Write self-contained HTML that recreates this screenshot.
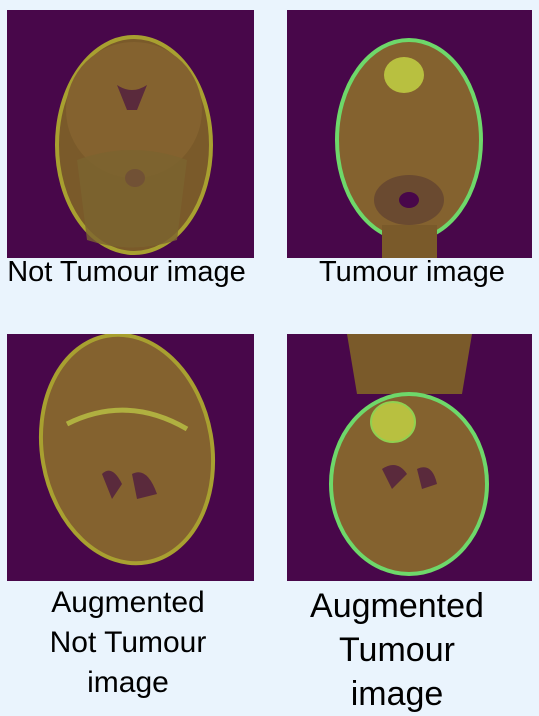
<!DOCTYPE html>
<html><head><meta charset="utf-8"><style>
body{margin:0;width:539px;height:713px;background:#eaf4fd;position:relative;overflow:hidden;font-family:"Liberation Sans",sans-serif;}
.img{position:absolute;}
.lbl{position:absolute;color:#000;text-align:center;white-space:nowrap;}
</style></head><body>
<svg class="img" style="left:7px;top:10px" width="247" height="248" viewBox="0 0 247 248">
<rect width="247" height="248" fill="#48074a"/>
<ellipse cx="127" cy="135" rx="77" ry="108" fill="#7a5a2a" stroke="#a8a030" stroke-width="4"/>
<ellipse cx="127" cy="100" rx="68" ry="68" fill="#84622f"/>
<path d="M110 75 Q125 85 140 75 L130 100 L120 100 Z" fill="#5a2a3c"/>
<ellipse cx="128" cy="168" rx="10" ry="9" fill="#48074a"/>
<path d="M70 150 Q125 130 180 150 L170 230 Q125 245 80 230 Z" fill="#7c6430" opacity="0.8"/>
</svg>
<svg class="img" style="left:287px;top:10px" width="245" height="248" viewBox="0 0 245 248">
<rect width="245" height="248" fill="#48074a"/>
<ellipse cx="122" cy="130" rx="72" ry="100" fill="#84622f" stroke="#6ed86a" stroke-width="4"/>
<ellipse cx="117" cy="65" rx="20" ry="18" fill="#b8c040"/>
<ellipse cx="122" cy="190" rx="35" ry="25" fill="#6a4a30"/>
<ellipse cx="122" cy="190" rx="10" ry="8" fill="#48074a"/>
<rect x="95" y="215" width="55" height="33" fill="#7a5a2a"/>
</svg>
<svg class="img" style="left:7px;top:334px" width="247" height="247" viewBox="0 0 247 247">
<rect width="247" height="247" fill="#48074a"/>
<ellipse cx="120" cy="115" rx="85" ry="115" fill="#84622f" stroke="#a8a030" stroke-width="4" transform="rotate(-10 120 115)"/>
<path d="M95 140 Q105 130 115 150 L105 165 Z M125 140 Q140 132 150 160 L130 165 Z" fill="#5a2a3c"/>
<path d="M60 90 Q120 60 180 95" stroke="#b0b040" stroke-width="5" fill="none"/>
</svg>
<svg class="img" style="left:287px;top:334px" width="245" height="247" viewBox="0 0 245 247">
<rect width="245" height="247" fill="#48074a"/>
<path d="M60 0 L185 0 L175 60 L70 60 Z" fill="#7a5a2a"/>
<ellipse cx="122" cy="150" rx="78" ry="90" fill="#84622f" stroke="#6ed86a" stroke-width="4"/>
<ellipse cx="106" cy="88" rx="22" ry="20" fill="#b8c040" stroke="#90d050" stroke-width="2"/>
<path d="M95 135 Q110 125 120 140 L105 155 Z M130 135 Q145 128 150 150 L135 155 Z" fill="#5a2a3c"/>
</svg>
<div class="lbl" style="left:0;width:253px;top:255px;font-size:29px;line-height:34px">Not Tumour image</div>
<div class="lbl" style="left:287px;width:250px;top:255px;font-size:29px;line-height:34px">Tumour image</div>
<div class="lbl" style="left:0;width:256px;top:583px;font-size:30px;line-height:40px">Augmented<br>Not Tumour<br>image</div>
<div class="lbl" style="left:270px;width:254px;top:584px;font-size:34px;line-height:44px">Augmented<br>Tumour<br>image</div>
</body></html>
